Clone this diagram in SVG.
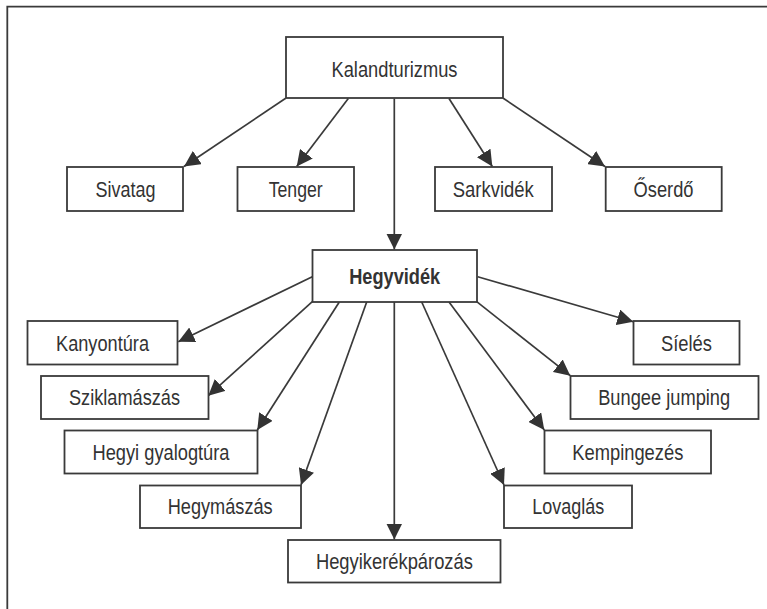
<svg xmlns="http://www.w3.org/2000/svg" width="767" height="609" viewBox="0 0 767 609">
<defs>
<style>
.box{fill:#fff;stroke:#3a3a3a;stroke-width:1.8}
.t{font-family:"Liberation Sans",Arial,sans-serif;font-size:22px;fill:#333;text-anchor:middle}
.b{font-weight:bold}
.c{stroke:#3a3a3a;stroke-width:1.7;fill:none;marker-end:url(#ah)}
</style>
<marker id="ah" markerUnits="userSpaceOnUse" markerWidth="17" markerHeight="16" viewBox="0 0 17 16" refX="16" refY="8" orient="auto">
<path d="M0,0 L16,8 L0,16 z" fill="#333"/>
</marker>
</defs>
<rect width="767" height="609" fill="#fff"/>
<path d="M7.3,609 V6.7 H767" fill="none" stroke="#3a3a3a" stroke-width="1.8"/>
<g id="connectors">
<line class="c" x1="285.7" y1="98.3" x2="184" y2="166.5"/>
<line class="c" x1="348.3" y1="98.5" x2="296.7" y2="166.5"/>
<line class="c" x1="394.3" y1="98.5" x2="394.3" y2="249.5"/>
<line class="c" x1="449" y1="98.5" x2="492.3" y2="166.5"/>
<line class="c" x1="503.3" y1="98.3" x2="605" y2="166.5"/>
<line class="c" x1="312.3" y1="276.7" x2="178.3" y2="341.7"/>
<line class="c" x1="312.3" y1="301.7" x2="208.3" y2="395.7"/>
<line class="c" x1="339.3" y1="302" x2="257.3" y2="430"/>
<line class="c" x1="366.7" y1="302" x2="301" y2="485"/>
<line class="c" x1="394.3" y1="302" x2="394.3" y2="539.5"/>
<line class="c" x1="421.7" y1="302" x2="504" y2="485"/>
<line class="c" x1="449" y1="302" x2="544.3" y2="430"/>
<line class="c" x1="476.7" y1="301.7" x2="570.3" y2="375.7"/>
<line class="c" x1="477.7" y1="276.7" x2="633.3" y2="321.7"/>
</g>
<g id="kalandturizmus"><rect class="box" x="286" y="37" width="217" height="61"/><text class="t" x="394.5" y="76.5" textLength="126" lengthAdjust="spacingAndGlyphs">Kalandturizmus</text></g>
<g id="sivatag"><rect class="box" x="67" y="167" width="116" height="44"/><text class="t" x="125.5" y="197" textLength="60" lengthAdjust="spacingAndGlyphs">Sivatag</text></g>
<g id="tenger"><rect class="box" x="237.5" y="167" width="116.5" height="44"/><text class="t" x="295.7" y="197" textLength="54" lengthAdjust="spacingAndGlyphs">Tenger</text></g>
<g id="sarkvidek"><rect class="box" x="435" y="167" width="117" height="44"/><text class="t" x="493.3" y="197" textLength="81" lengthAdjust="spacingAndGlyphs">Sarkvidék</text></g>
<g id="oserdo"><rect class="box" x="605.7" y="167" width="116" height="44"/><text class="t" x="663.5" y="197" textLength="60" lengthAdjust="spacingAndGlyphs">Őserdő</text></g>
<g id="hegyvidek"><rect class="box" x="312.5" y="250" width="164.5" height="52"/><text class="t b" x="394.7" y="284" textLength="91" lengthAdjust="spacingAndGlyphs">Hegyvidék</text></g>
<g id="kanyontura"><rect class="box" x="27.5" y="321" width="150" height="43.5"/><text class="t" x="102.5" y="350.5" textLength="93" lengthAdjust="spacingAndGlyphs">Kanyontúra</text></g>
<g id="sziklamaszas"><rect class="box" x="41" y="376" width="167.5" height="43"/><text class="t" x="124.5" y="405" textLength="111" lengthAdjust="spacingAndGlyphs">Sziklamászás</text></g>
<g id="hegyi-gyalogtura"><rect class="box" x="64.5" y="430.5" width="193" height="43"/><text class="t" x="161" y="460" textLength="137" lengthAdjust="spacingAndGlyphs">Hegyi gyalogtúra</text></g>
<g id="hegymaszas"><rect class="box" x="140" y="485.5" width="161" height="42.5"/><text class="t" x="220.2" y="514" textLength="105" lengthAdjust="spacingAndGlyphs">Hegymászás</text></g>
<g id="hegyikerekparozas"><rect class="box" x="288" y="540" width="212.5" height="42.5"/><text class="t" x="394.4" y="569.3" textLength="157" lengthAdjust="spacingAndGlyphs">Hegyikerékpározás</text></g>
<g id="sieles"><rect class="box" x="633.5" y="321" width="106" height="43.5"/><text class="t" x="686.4" y="350.5" textLength="51" lengthAdjust="spacingAndGlyphs">Síelés</text></g>
<g id="bungee-jumping"><rect class="box" x="570.5" y="376" width="188" height="43"/><text class="t" x="664.2" y="405" textLength="132" lengthAdjust="spacingAndGlyphs">Bungee jumping</text></g>
<g id="kempingezes"><rect class="box" x="544.5" y="430.5" width="166.5" height="43"/><text class="t" x="627.8" y="460" textLength="111" lengthAdjust="spacingAndGlyphs">Kempingezés</text></g>
<g id="lovaglas"><rect class="box" x="504" y="485.5" width="128" height="42.5"/><text class="t" x="568.2" y="514" textLength="72" lengthAdjust="spacingAndGlyphs">Lovaglás</text></g>
</svg>
